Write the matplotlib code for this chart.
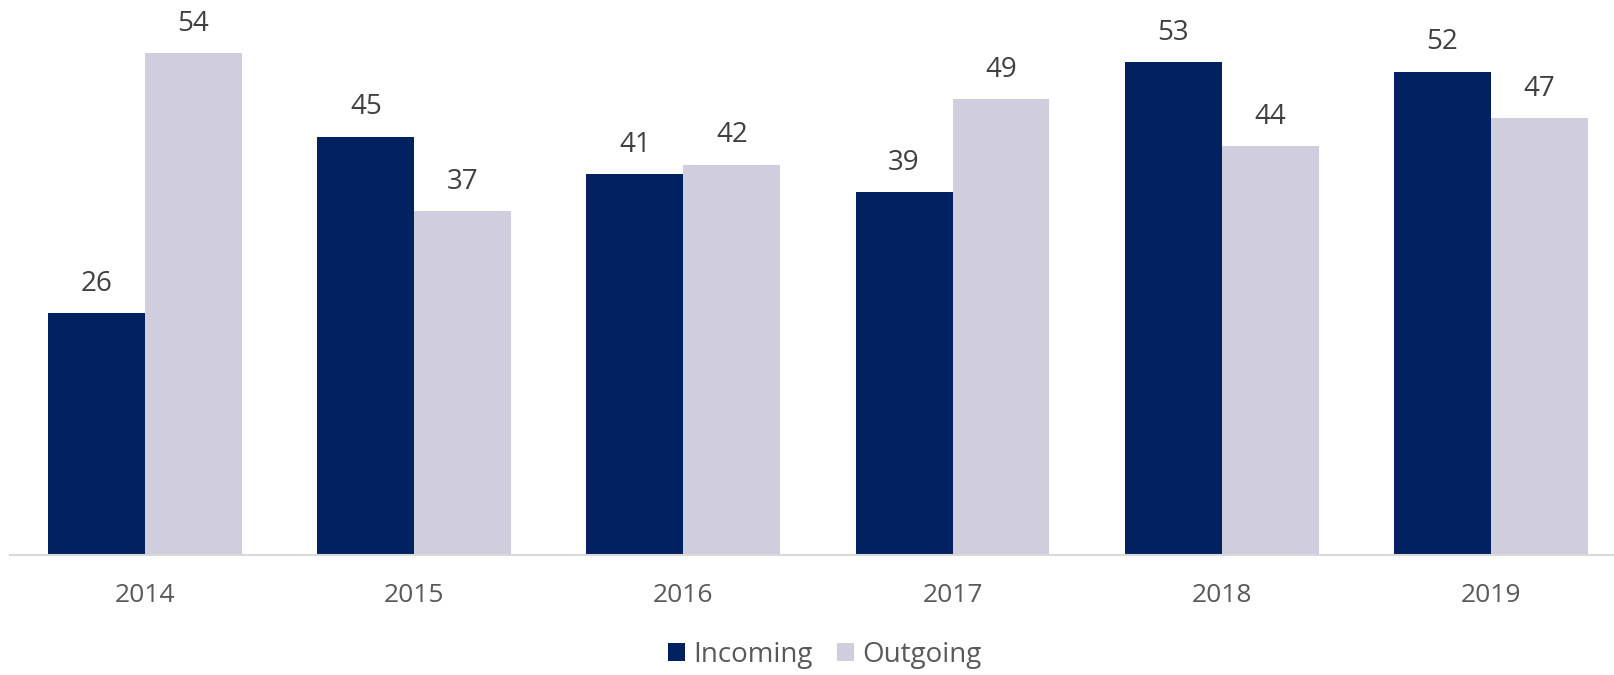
import numpy as np
import matplotlib.pyplot as plt

# data
years = ['2014', '2015', '2016', '2017', '2018', '2019']
incoming = [26, 45, 41, 39, 53, 52]
outgoing = [54, 37, 42, 49, 44, 47]

navy = '#002060'
lilac = '#CFCDDE'
text_col = '#595959'

plt.rcParams['font.family'] = ['Open Sans', 'DejaVu Sans']

fig = plt.figure(figsize=(16.14, 6.75), dpi=100)
ax = fig.add_axes([0.0065, 0.178, 1.0006, 0.822])

x = np.arange(len(years))
w = 0.36
b1 = ax.bar(x - w / 2, incoming, w, color=navy, label='Incoming')
b2 = ax.bar(x + w / 2, outgoing, w, color=lilac, label='Outgoing')

for bars in (b1, b2):
    for r in bars:
        ax.annotate(f'{r.get_height():.0f}', (r.get_x() + r.get_width() / 2, r.get_height()),
                    xytext=(0, 11), textcoords='offset points', ha='center', va='bottom',
                    fontsize=20, color='#404040')

ax.set_xlim(-0.5, 5.5)
ax.set_ylim(0, 59.7)
ax.set_xticks(x)
ax.set_xticklabels(years, fontsize=19, color=text_col)
ax.tick_params(axis='x', length=0, pad=20)
ax.set_yticks([])
for s in ['top', 'right', 'left']:
    ax.spines[s].set_visible(False)
ax.spines['bottom'].set_color('#D9D9D9')
ax.spines['bottom'].set_linewidth(1.5)

fig.legend(loc='center', bbox_to_anchor=(0.511, 0.03), ncol=2, frameon=False,
           fontsize=20, labelcolor=text_col, handlelength=0.6, handleheight=0.6,
           handletextpad=0.3, columnspacing=0.9)

fig.savefig('out.png', dpi=100)
